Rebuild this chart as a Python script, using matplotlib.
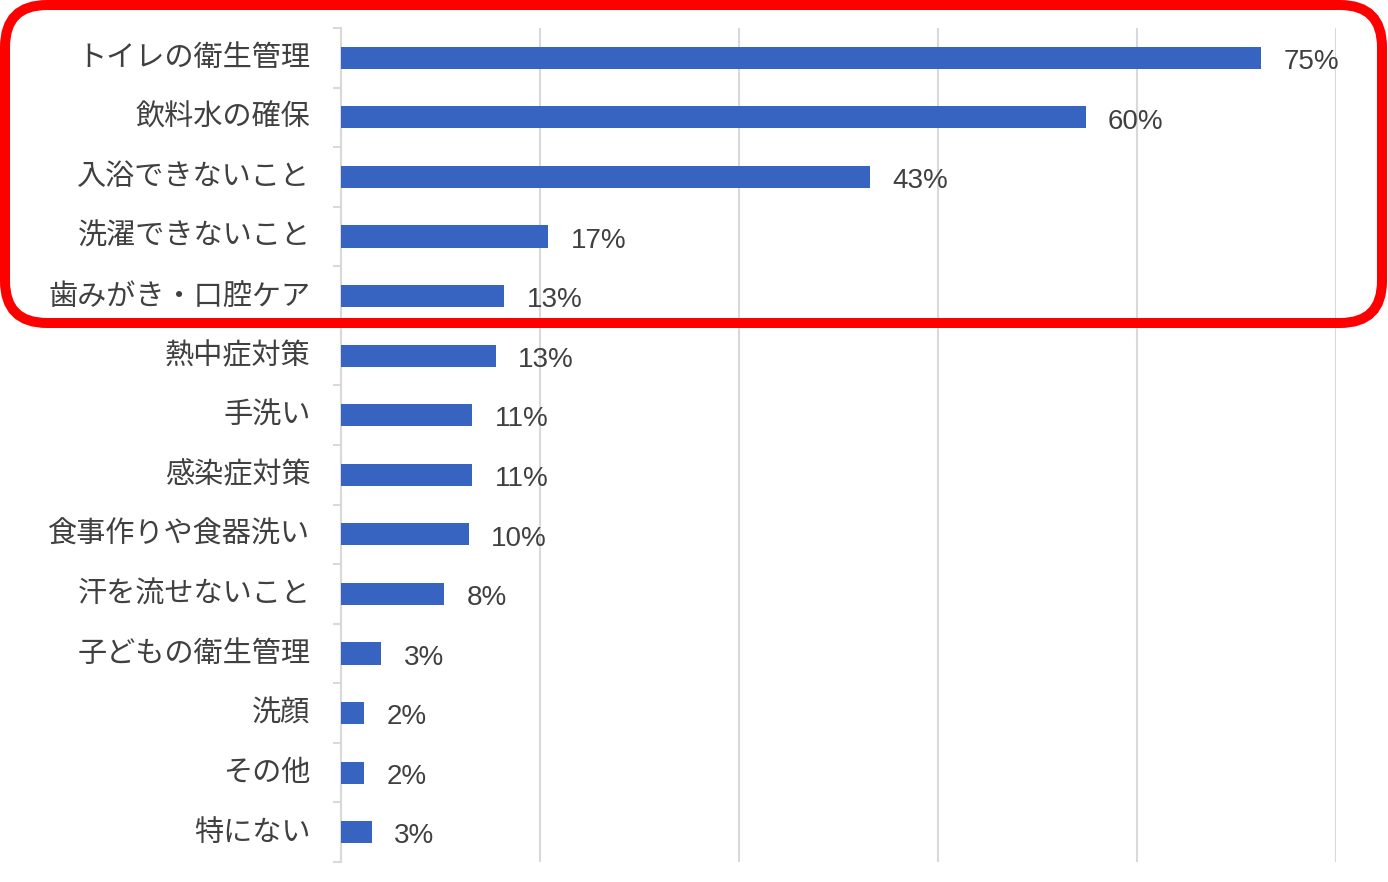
import matplotlib
matplotlib.use("Agg")
from matplotlib import pyplot as plt
from matplotlib.patches import FancyBboxPatch
from matplotlib import transforms
import numpy as np

plt.rcParams['font.family'] = ['Noto Sans CJK JP', 'DejaVu Sans']

categories = ["トイレの衛生管理", "飲料水の確保", "入浴できないこと", "洗濯できないこと",
              "歯みがき・口腔ケア", "熱中症対策", "手洗い", "感染症対策",
              "食事作りや食器洗い", "汗を流せないこと", "子どもの衛生管理", "洗顔",
              "その他", "特にない"]
# bar lengths as drawn (percent)
values = [75.0, 60.7, 43.1, 16.9, 13.3, 12.6, 10.7, 10.7, 10.4, 8.4, 3.3, 1.9, 1.9, 2.5]
value_labels = ["75%", "60%", "43%", "17%", "13%", "13%", "11%", "11%", "10%", "8%",
                "3%", "2%", "2%", "3%"]
grid_step = 16.22

bar_color = "#3763c1"
text_color = "#404040"
grid_color = "#d9d9d9"

fig = plt.figure(figsize=(13.88, 8.82), dpi=100)
ax = fig.add_axes([341/1388, 20/882, (1336-341)/1388, (862-28)/882])

y = np.arange(len(categories))
ax.barh(y, values, height=0.37, color=bar_color, zorder=3)

ax.set_xlim(0, grid_step*5)
ax.set_ylim(len(categories)-0.5, -0.5)
ax.set_xticks(np.arange(0, 6)*grid_step)
ax.tick_params(axis='x', length=0, labelbottom=False)
ax.grid(axis='x', color=grid_color, lw=1.5, zorder=0)

ax.set_yticks(y)
ax.set_yticklabels(categories, fontsize=21, color=text_color)
ax.set_yticks(np.arange(len(categories)+1)-0.5, minor=True)
ax.tick_params(axis='y', which='major', length=0, pad=22)
ax.tick_params(axis='y', which='minor', length=6, color=grid_color, width=1.5)
# labels sit a bit higher than the bar centres
shift = transforms.ScaledTranslation(0, 3/100, fig.dpi_scale_trans)
for t in ax.get_yticklabels():
    t.set_transform(t.get_transform() + shift)

for s in ['top', 'right', 'bottom']:
    ax.spines[s].set_visible(False)
ax.spines['left'].set_color(grid_color)
ax.spines['left'].set_linewidth(1.5)

for i, (v, lab) in enumerate(zip(values, value_labels)):
    ax.annotate(lab, (v, i), xytext=(16, -3), textcoords='offset points',
                ha='left', va='center', fontsize=20, color=text_color,
                family=['Liberation Sans', 'DejaVu Sans'], annotation_clip=False)

# red highlight frame around the top five
ov = fig.add_axes([0, 0, 1, 1], zorder=10)
ov.set_xlim(0, 1388)
ov.set_ylim(882, 0)
ov.axis('off')
ov.patch.set_alpha(0)
ov.add_patch(FancyBboxPatch((5, 5), 1377, 318,
                            boxstyle="round,pad=0,rounding_size=42",
                            fc='none', ec='#ff0000', lw=7.2))

fig.savefig("out.png", dpi=100)
